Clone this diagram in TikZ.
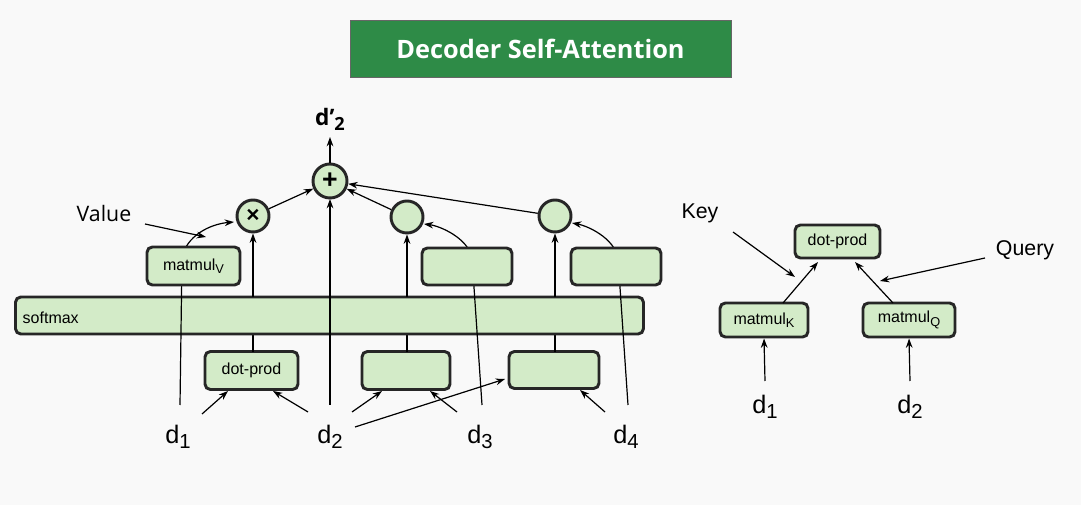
\documentclass[tikz,border=0pt]{standalone}
\usepackage{fontspec}
\setmainfont{Liberation Sans}
\newfontfamily\nsans{Open Sans}
\usetikzlibrary{arrows.meta}
\definecolor{bx}{HTML}{D3EBC8}
\definecolor{ttl}{HTML}{2E8B47}
\definecolor{bg}{HTML}{F9F9F9}
\newcommand{\sbx}[1]{\raisebox{-0.35ex}{\fontsize{0.8\dimexpr\f@size pt\relax}{1em}\selectfont #1}}
\makeatletter
\renewcommand{\sbx}[1]{\raisebox{-0.4ex}{\fontsize{\dimexpr0.8\dimexpr\f@size pt\relax\relax}{1em}\selectfont #1}}
\makeatother
\begin{document}
\begin{tikzpicture}[x=0.75pt,y=-0.75pt,
 box/.style={draw=black!85,line width=2.2pt,fill=bx,rounded corners=4pt,inner sep=0pt,font=\fontsize{12}{14}\selectfont},
 circ/.style={draw=black!85,line width=2.2pt,fill=bx,circle,minimum size=24pt,inner sep=0pt},
 ar/.style={-{Stealth[length=7pt,width=5pt]},line width=0.9pt},
 ln/.style={line width=0.9pt},
 dl/.style={font=\fontsize{19}{21}\selectfont},
 ann/.style={font=\fontsize{16}{18}\selectfont}]
\fill[bg] (0,0) rectangle (1081,505);
\useasboundingbox (0,0) rectangle (1081,505);
\node[fill=ttl,draw=black!60,line width=0.6pt,minimum width=285.75pt,minimum height=42.75pt,text=white,font=\nsans\bfseries\fontsize{19}{22}\selectfont] (title) at (540.5,48.5) {Decoder Self-Attention};
% boxes
\node[box,minimum width=69.75pt,minimum height=28.5pt] (dp) at (251.5,370.5) {dot-prod};
\node[box,minimum width=66pt,minimum height=28.5pt] (b2) at (406,370.5) {};
\node[box,minimum width=67.5pt,minimum height=27.75pt] (b3) at (554,370) {};
\draw[ln] (253,352) -- (253,300);
\draw[ln] (407,352) -- (407,300);
\draw[ln] (555,352) -- (555,300);
\node[box,minimum width=471pt,minimum height=27.75pt,anchor=west] (sm) at (14,315.5) {};
\node[anchor=west,font=\fontsize{12}{14}\selectfont] (smt) at (18,318) {softmax};
% d lines
\draw[ar] (180,405) -- (182,258) .. controls (186,236) and (210,224) .. (234,222);
\draw[ar] (330,405) -- (330,199);
\draw[ar] (482,405) -- (472,258) .. controls (468,238) and (440,226) .. (424,224);
\draw[ar] (628,405) -- (618,258) .. controls (614,238) and (588,226) .. (572,223);
\node[box,minimum width=69.75pt,minimum height=28.5pt] (mv) at (193.5,266) {matmul\sbx{V}};
\node[box,minimum width=67.5pt,minimum height=27.75pt] (b5) at (467,266.5) {};
\node[box,minimum width=67.5pt,minimum height=27.75pt] (b6) at (616,266.5) {};
\node[circ] (tm) at (253,216) {\fontsize{17}{17}\selectfont\textbf{×}};
\node[circ,minimum size=25.5pt] (pl) at (330,181) {\fontsize{20}{20}\selectfont\textbf{+}};
\node[circ] (c3) at (407,217) {};
\node[circ] (c4) at (555,216) {};
\node[font=\nsans\bfseries\fontsize{17}{18}\selectfont] (dd) at (330,119) {d’\sbx{2}};
\draw[ar] (pl.north) -- (330,137);
\node[dl] (d1) at (178,437) {d\sbx{1}};
\node[dl] (d2) at (330,437) {d\sbx{2}};
\node[dl] (d3) at (480,437) {d\sbx{3}};
\node[dl] (d4) at (626,437) {d\sbx{4}};
\node[font=\nsans\fontsize{16}{18}\selectfont] (val) at (104,214) {Value};
\draw[ar] (145,224) -- (206,237);
\draw[ar] (253,297) -- (tm.south);
\draw[ar] (407,297) -- (c3.south);
\draw[ar] (555,297) -- (c4.south);
\draw[ar] (tm) -- (pl);
\draw[ar] (c3) -- (pl);
\draw[ar] (c4) -- (pl);
% d to boxes
\draw[ar] (202,414) -- (228,391);
\draw[ar] (308,412) -- (273,391);
\draw[ar] (352,412) -- (382,391);
\draw[ar] (457,412) -- (430,391);
\draw[ar] (355,427) -- (505,379);
\draw[ar] (605,412) -- (580,390);
% right diagram
\node[box,minimum width=63.75pt,minimum height=24.75pt] (kdp) at (837.5,241.5) {dot-prod};
\node[box,minimum width=66pt,minimum height=25.5pt] (mk) at (764,320) {matmul\sbx{K}};
\node[box,minimum width=69pt,minimum height=25.5pt] (mq) at (909,320) {matmul\sbx{Q}};
\draw[ar] (783,303) -- (818,262);
\draw[ar] (893,303) -- (855,262);
\node[ann] (key) at (700,213) {Key};
\node[ann] (qry) at (1025,250) {Query};
\draw[ar] (733,232) -- (795,277);
\draw[ar] (985,258) -- (880,281);
\node[dl] (e1) at (765,407) {d\sbx{1}};
\node[dl] (e2) at (910,407) {d\sbx{2}};
\draw[ar] (765,381) -- (mk.south);
\draw[ar] (910,381) -- (mq.south);
\end{tikzpicture}
\end{document}
